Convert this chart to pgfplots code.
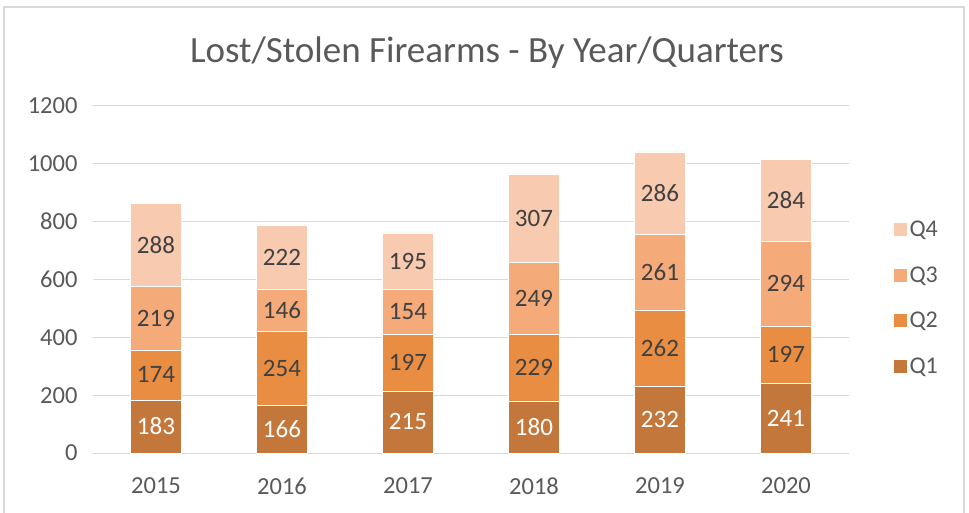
\documentclass[border=0pt]{standalone}
\usepackage{pgfplots}
\pgfplotsset{compat=1.18}
\usepackage{pgfplotstable}
\usepackage{fontspec}
\setmainfont{Carlito}
\definecolor{cq1}{RGB}{196,119,58}
\definecolor{cq2}{RGB}{233,141,66}
\definecolor{cq3}{RGB}{245,170,122}
\definecolor{cq4}{RGB}{248,203,176}
\definecolor{txt}{RGB}{89,89,89}
\definecolor{lbl}{RGB}{64,64,64}
\definecolor{grd}{RGB}{217,217,217}
\pgfplotstableread{
x q1 q2 q3 q4
0 183 174 219 288
1 166 254 146 222
2 215 197 154 195
3 180 229 249 307
4 232 262 261 286
5 241 197 294 284
}\data
\begin{document}
\begin{tikzpicture}
\useasboundingbox (-93pt,-59pt) rectangle (876pt,453pt);
\draw[grd, line width=1.5pt] (-89pt,-70pt) -- (-89pt,446pt) -- (871pt,446pt) -- (871pt,-70pt);
\begin{axis}[
  at={(0pt,0pt)}, anchor=south west, scale only axis,
  width=756pt, height=347pt,
  ybar stacked, bar width=51pt,
  xmin=-0.5, xmax=5.5, ymin=0, ymax=1200,
  xtick={0,...,5}, xticklabels={2015,2016,2017,2018,2019,2020},
  ytick={0,200,...,1200},
  ymajorgrids, grid style={grd, line width=1pt},
  axis line style={draw=none},
  major tick length=0pt,
  ticklabel style={font=\fontsize{24.5}{28}\selectfont, text=txt},
  yticklabel style={xshift=-12pt},
  xticklabel style={yshift=-21pt},
  nodes near coords, point meta=explicit,
  every node near coord/.append style={anchor=center, font=\fontsize{25}{28}\selectfont, text=lbl},
  legend style={at={(1.054,0.681)}, anchor=north west, draw=none, fill=none,
     font=\fontsize{24}{28}\selectfont, text=txt, cells={anchor=west}, row sep=24.5pt},
  legend image code/.code={\fill[#1] (0pt,-7pt) rectangle (14pt,7pt);},
  reverse legend,
  /pgf/number format/1000 sep={},
  /pgf/number format/assume math mode=true,
]
\addplot[fill=cq1, draw=white, line width=0.5pt, every node near coord/.append style={text=white}] table[x=x, y=q1, meta=q1] {\data};
\addplot[fill=cq2, draw=white, line width=0.5pt] table[x=x, y=q2, meta=q2] {\data};
\addplot[fill=cq3, draw=white, line width=0.5pt] table[x=x, y=q3, meta=q3] {\data};
\addplot[fill=cq4, draw=white, line width=0.5pt] table[x=x, y=q4, meta=q4] {\data};
\legend{Q1,Q2,Q3,Q4}
\end{axis}
\node[font=\fontsize{37}{44}\selectfont, text=txt] at (394pt,400pt) {Lost/Stolen Firearms - By Year/Quarters};
\end{tikzpicture}
\end{document}
